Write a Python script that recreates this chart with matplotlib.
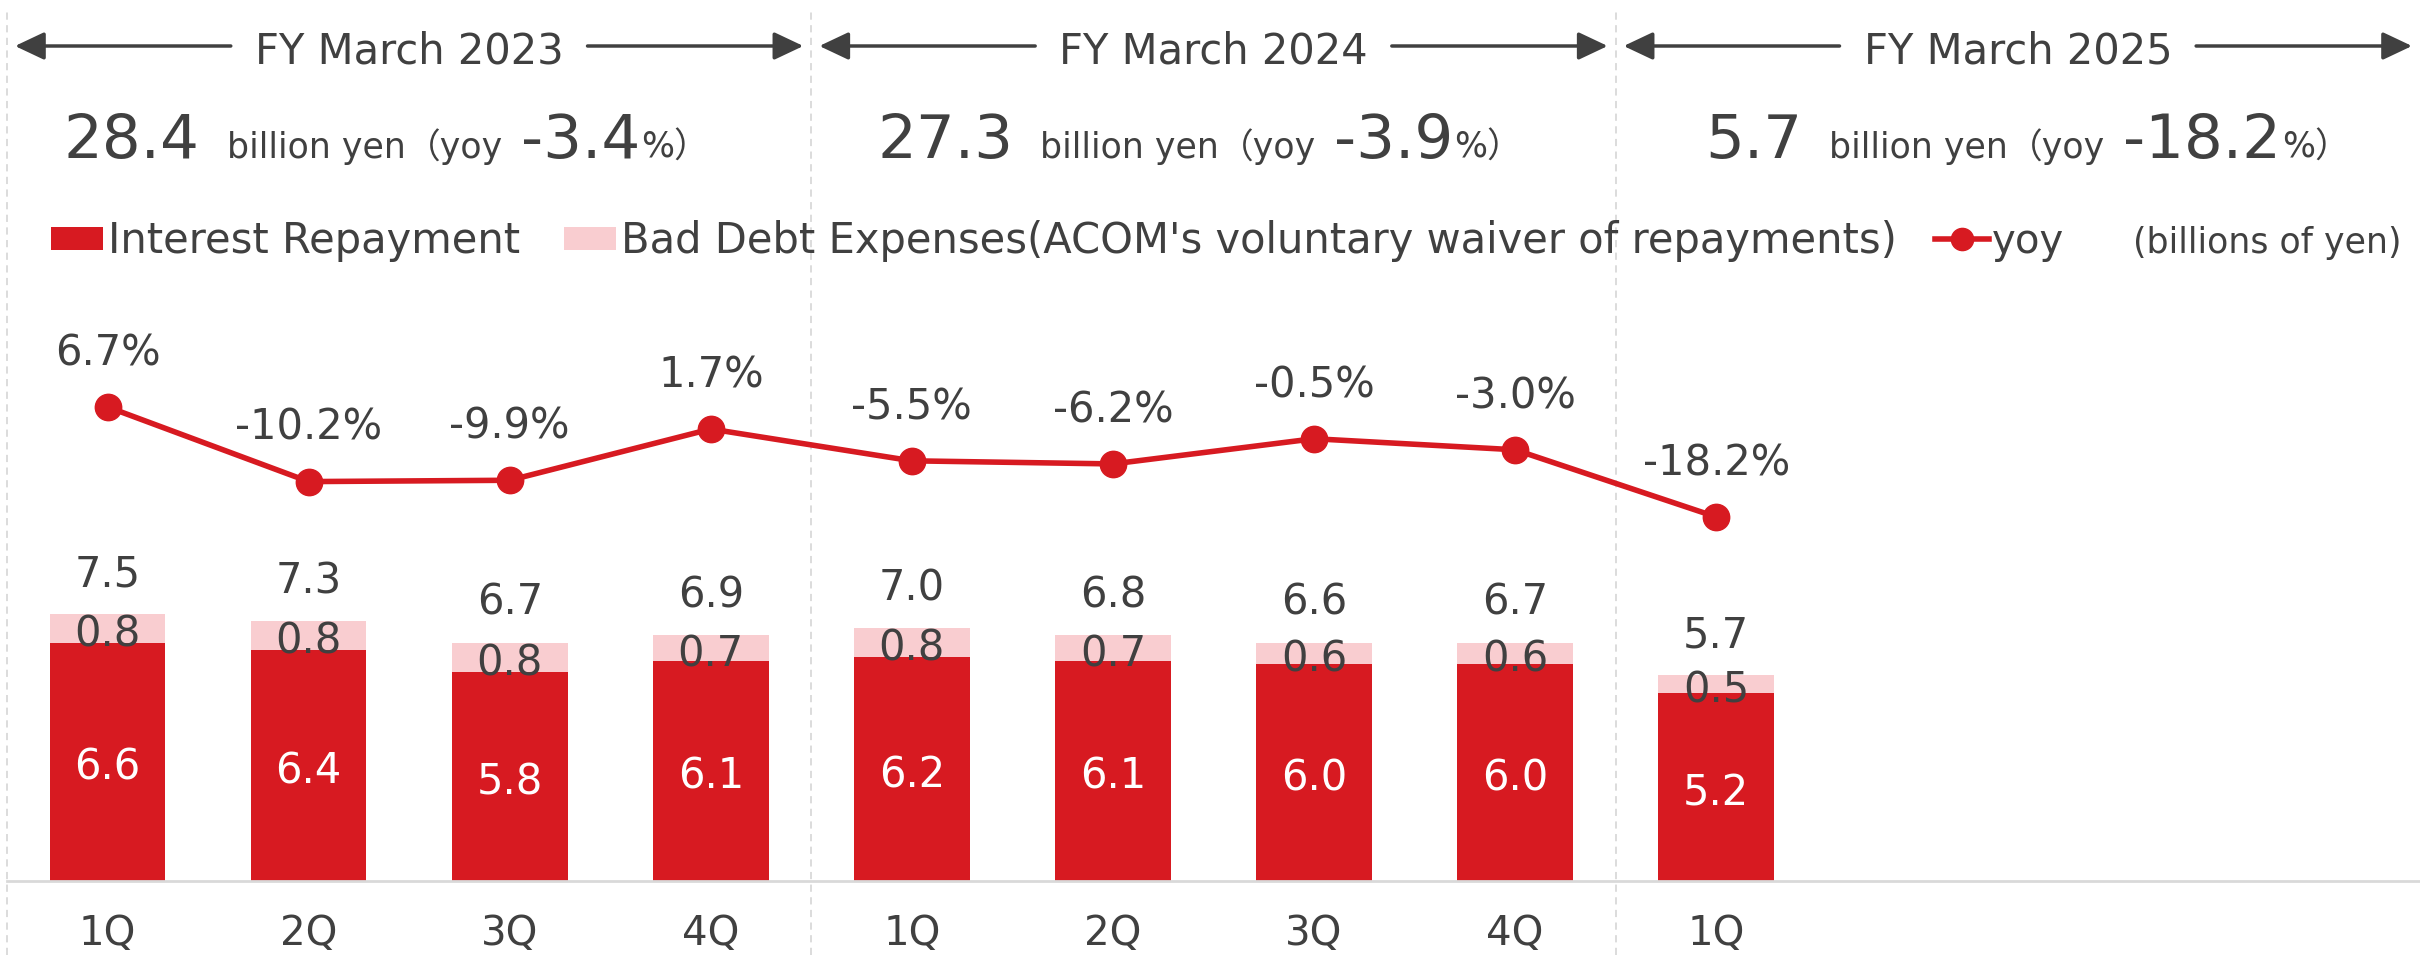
import matplotlib
matplotlib.use("Agg")
import matplotlib.pyplot as plt
from matplotlib.patches import Rectangle
from matplotlib.lines import Line2D

W, H, DPI = 2420, 955, 100

RED = "#D71A21"
PINK = "#F9CDD0"
TXT = "#404040"
GRID = "#D9D9D9"
FAM = ["DejaVu Sans", "Noto Sans CJK JP"]
plt.rcParams["font.family"] = FAM

# ── Data ──────────────────────────────────────────────────
quarters = ["1Q", "2Q", "3Q", "4Q", "1Q", "2Q", "3Q", "4Q", "1Q"]
interest = [6.6, 6.4, 5.8, 6.1, 6.2, 6.1, 6.0, 6.0, 5.2]
bad_debt = [0.8, 0.8, 0.8, 0.7, 0.8, 0.7, 0.6, 0.6, 0.5]
totals = [7.5, 7.3, 6.7, 6.9, 7.0, 6.8, 6.6, 6.7, 5.7]
yoy = [6.7, -10.2, -9.9, 1.7, -5.5, -6.2, -0.5, -3.0, -18.2]

fiscal_years = ["FY March 2023", "FY March 2024", "FY March 2025"]
fy_totals = ["28.4", "27.3", "5.7"]
fy_yoy = ["-3.4", "-3.9", "-18.2"]
fy_text_start = [64, 877, 1705]   # left edge of summary line (px)


def fy(y_img):
    """image-pixel y (from top) -> figure fraction"""
    return 1 - y_img / H


fig = plt.figure(figsize=(W / DPI, H / DPI), dpi=DPI)
fig.patch.set_facecolor("white")
ax = fig.add_axes([7 / W, 74 / H, (W - 7) / W, 881 / H])
ax2 = ax.twinx()

x = list(range(len(quarters)))
bar_w = 0.575
ax.bar(x, interest, width=bar_w, color=RED, zorder=2)
ax.bar(x, bad_debt, width=bar_w, bottom=interest, color=PINK, zorder=2)
ax.set_xlim(-0.5, 11.5)
ax.set_ylim(0, 24.4)

ax2.plot(x, yoy, color=RED, lw=4, marker="o", ms=19, zorder=3)
ax2.set_ylim(-100.6, 98.8)

for a in (ax, ax2):
    for s in ("top", "left", "right", "bottom"):
        a.spines[s].set_visible(False)
    a.set_xticks([])
    a.set_yticks([])
ax.spines["bottom"].set_visible(True)
ax.spines["bottom"].set_color(GRID)
ax.spines["bottom"].set_linewidth(2)

# bar labels
for i in x:
    top = interest[i] + bad_debt[i]
    ax.annotate(f"{totals[i]:.1f}", (i, top), xytext=(0, 20), textcoords="offset points",
                ha="center", va="baseline", fontsize=30, color=TXT)
    ax.annotate(f"{bad_debt[i]:.1f}", (i, interest[i] + bad_debt[i] / 2), xytext=(0, -13),
                textcoords="offset points", ha="center", va="baseline", fontsize=30, color=TXT)
    ax.annotate(f"{interest[i]:.1f}", (i, interest[i] / 2), xytext=(0, -13),
                textcoords="offset points", ha="center", va="baseline", fontsize=30, color="white")
    ax.annotate(quarters[i], (i, 0), xytext=(0, -46), textcoords="offset points",
                ha="center", va="baseline", fontsize=29, color=TXT, annotation_clip=False)
    ax2.annotate(f"{yoy[i]:.1f}%", (i, yoy[i]), xytext=(0, 30), textcoords="offset points",
                 ha="center", va="baseline", fontsize=30, color=TXT)

# dashed separators between fiscal years
for xv in (-0.5, 3.5, 7.5):
    ax.axvline(xv, ymin=-74 / 881, ymax=(955 - 10 - 74) / 881, color=GRID, lw=1.3,
               ls=(0, (4, 3)), clip_on=False, zorder=0)

renderer = fig.canvas.get_renderer()

# fiscal year headers with arrows
for k, label in enumerate(fiscal_years):
    x0, x1 = 4 * k - 0.5, 4 * k + 3.5
    xc = (x0 + x1) / 2
    px0 = ax.transData.transform((x0, 0))[0] + 8
    px1 = ax.transData.transform((x1, 0))[0] - 8
    pxc = ax.transData.transform((xc, 0))[0]
    t = fig.text(pxc / W, fy(63), label, ha="center", va="baseline", fontsize=30, color=TXT)
    bb = t.get_window_extent(renderer)
    ya = H - 46
    for start, tip in ((bb.x0 - 24, px0), (bb.x1 + 24, px1)):
        ax.annotate("", xy=(tip, ya), xytext=(start, ya), xycoords="figure pixels",
                    textcoords="figure pixels", annotation_clip=False,
                    arrowprops=dict(arrowstyle="-|>,head_length=18,head_width=8.5",
                                    mutation_scale=1, color=TXT, lw=2.5,
                                    shrinkA=0, shrinkB=0))

    # summary line: "28.4 billion yen（yoy -3.4%）"
    pieces = [(fy_totals[k], 44, 0), ("billion yen", 25, 27), ("（yoy", 25, 0),
              (fy_yoy[k], 44, 18), ("%）", 25, 1)]
    xp = fy_text_start[k]
    for s, size, gap in pieces:
        xp += gap
        tt = fig.text(xp / W, fy(158), s, fontsize=size, color=TXT, ha="left", va="baseline")
        xp += tt.get_window_extent(renderer).width

# legend row
fig.add_artist(Rectangle((51 / W, fy(250)), 52 / W, 23 / H, transform=fig.transFigure,
                         color=RED, lw=0))
fig.text(108 / W, fy(253), "Interest Repayment", fontsize=30, color=TXT, va="baseline")
fig.add_artist(Rectangle((564 / W, fy(250)), 52 / W, 23 / H, transform=fig.transFigure,
                         color=PINK, lw=0))
fig.text(621 / W, fy(253), "Bad Debt Expenses(ACOM's voluntary waiver of repayments)",
         fontsize=30, color=TXT, va="baseline")
fig.add_artist(Line2D([1935 / W, 1989 / W], [fy(239)] * 2, transform=fig.transFigure,
                      color=RED, lw=4))
fig.add_artist(Line2D([1962 / W], [fy(239)], transform=fig.transFigure,
                      color=RED, marker="o", ms=16, lw=0))
fig.text(1992 / W, fy(253), "yoy", fontsize=29, color=TXT, va="baseline")
fig.text(2133 / W, fy(253), "(billions of yen)", fontsize=25, color=TXT, va="baseline")

fig.savefig("out.png", dpi=DPI, facecolor="white")
